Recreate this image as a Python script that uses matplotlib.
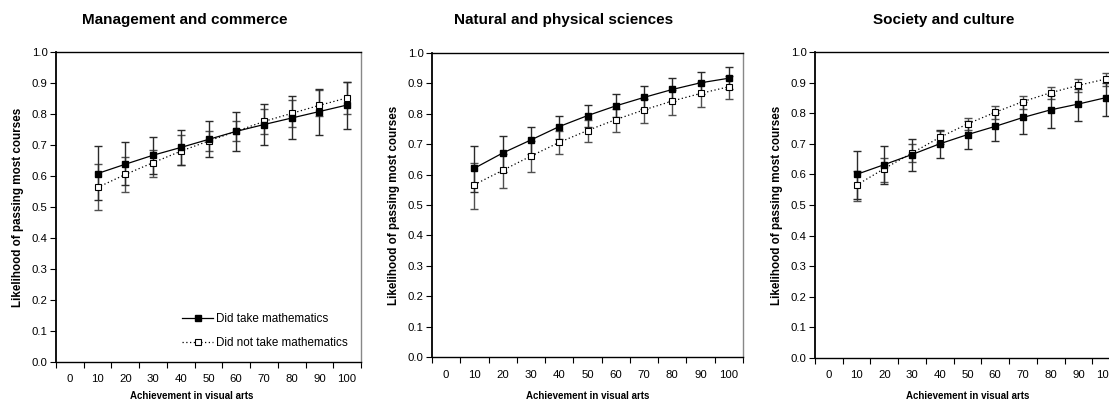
import matplotlib
matplotlib.use("Agg")
import matplotlib.pyplot as plt
import numpy as np

plt.rcParams['font.family'] = ['Liberation Sans', 'DejaVu Sans']

categories = ['0', '10', '20', '30', '40', '50', '60', '70', '80', '90', '100']
achievement = ['10', '20', '30', '40', '50', '60', '70', '80', '90', '100']

titles = ['Management and commerce', 'Natural and physical sciences', 'Society and culture']
series_labels = ['Did take mathematics', 'Did not take mathematics']

# Management and commerce
mc_took = [0.608, 0.638, 0.667, 0.692, 0.718, 0.744, 0.766, 0.787, 0.808, 0.829]
mc_took_lo = [0.522, 0.570, 0.605, 0.637, 0.660, 0.681, 0.700, 0.718, 0.733, 0.752]
mc_took_hi = [0.696, 0.710, 0.727, 0.748, 0.776, 0.805, 0.833, 0.858, 0.882, 0.902]
mc_not = [0.563, 0.605, 0.643, 0.680, 0.713, 0.744, 0.776, 0.802, 0.828, 0.852]
mc_not_lo = [0.490, 0.547, 0.598, 0.635, 0.680, 0.712, 0.736, 0.758, 0.794, 0.800]
mc_not_hi = [0.640, 0.660, 0.685, 0.733, 0.746, 0.778, 0.815, 0.846, 0.877, 0.902]

# Natural and physical sciences
nps_took = [0.621, 0.671, 0.714, 0.758, 0.794, 0.826, 0.854, 0.880, 0.902, 0.917]
nps_took_lo = [0.542, 0.610, 0.668, 0.718, 0.756, 0.790, 0.815, 0.842, 0.866, 0.880]
nps_took_hi = [0.694, 0.728, 0.758, 0.793, 0.830, 0.865, 0.893, 0.918, 0.939, 0.954]
nps_not = [0.567, 0.614, 0.661, 0.706, 0.745, 0.781, 0.813, 0.842, 0.867, 0.889]
nps_not_lo = [0.486, 0.555, 0.610, 0.668, 0.706, 0.741, 0.771, 0.796, 0.823, 0.850]
nps_not_hi = [0.637, 0.668, 0.712, 0.745, 0.780, 0.815, 0.850, 0.878, 0.905, 0.925]

# Society and culture
sc_took = [0.600, 0.632, 0.665, 0.700, 0.730, 0.757, 0.786, 0.811, 0.830, 0.851]
sc_took_lo = [0.520, 0.568, 0.611, 0.652, 0.683, 0.710, 0.732, 0.753, 0.773, 0.792]
sc_took_hi = [0.675, 0.694, 0.715, 0.744, 0.775, 0.800, 0.835, 0.860, 0.880, 0.900]
sc_not = [0.565, 0.619, 0.670, 0.721, 0.765, 0.803, 0.838, 0.867, 0.891, 0.912]
sc_not_lo = [0.512, 0.575, 0.640, 0.700, 0.745, 0.782, 0.815, 0.846, 0.870, 0.890]
sc_not_hi = [0.610, 0.652, 0.698, 0.742, 0.784, 0.824, 0.856, 0.886, 0.911, 0.933]

panels = [
    (mc_took, mc_took_lo, mc_took_hi, mc_not, mc_not_lo, mc_not_hi),
    (nps_took, nps_took_lo, nps_took_hi, nps_not, nps_not_lo, nps_not_hi),
    (sc_took, sc_took_lo, sc_took_hi, sc_not, sc_not_lo, sc_not_hi),
]

W, H = 1109, 401
fig = plt.figure(figsize=(W / 100, H / 100), dpi=100)

# axes boxes in pixels: left, right, top, bottom
boxes = [(56, 361, 52, 362), (432, 743, 53, 357), (815, 1120, 52, 358)]
xlabel_shift = [-17, 0, 0]

for i, (box, data) in enumerate(zip(boxes, panels)):
    l, r, t, b = box
    ax = fig.add_axes([l / W, 1 - b / H, (r - l) / W, (b - t) / H])
    took, took_lo, took_hi, notk, not_lo, not_hi = [np.array(d) for d in data]
    xpos = np.array([categories.index(a) for a in achievement])

    ax.errorbar(xpos, notk, yerr=[notk - not_lo, not_hi - notk], fmt='none',
                ecolor='#505050', elinewidth=1.0, capsize=3.2, capthick=1.0, zorder=2)
    ax.errorbar(xpos, took, yerr=[took - took_lo, took_hi - took], fmt='none',
                ecolor='#2a2a2a', elinewidth=1.0, capsize=3.2, capthick=1.0, zorder=2)
    h_not, = ax.plot(xpos, notk, linestyle=(0, (1, 2)), color='black', linewidth=0.9,
                     marker='s', markersize=4.2, markerfacecolor='white',
                     markeredgecolor='black', markeredgewidth=0.8, zorder=3,
                     label=series_labels[1])
    h_took, = ax.plot(xpos, took, linestyle='-', color='black', linewidth=0.9,
                      marker='s', markersize=4.4, markerfacecolor='black',
                      markeredgecolor='black', zorder=4, label=series_labels[0])

    ax.set_xlim(-0.5, len(categories) - 0.5)
    ax.set_ylim(0, 1.0)
    ax.set_yticks(np.arange(0, 1.01, 0.1))
    ax.set_yticklabels([f'{v:.1f}' for v in np.arange(0, 1.01, 0.1)])
    ax.set_xticks(np.arange(-0.5, len(categories), 1.0))
    ax.set_xticklabels([])
    ax.set_xticks(np.arange(len(categories)), minor=True)
    ax.set_xticklabels(categories, minor=True)
    ax.tick_params(axis='x', which='major', direction='out', length=4, width=0.8, color='black')
    ax.tick_params(axis='x', which='minor', length=0, pad=9, labelsize=8.2, labelcolor='black')
    ax.tick_params(axis='y', direction='out', length=4, width=0.8, labelsize=8.2, pad=2)

    for side in ['left', 'bottom', 'top']:
        ax.spines[side].set_color('black')
        ax.spines[side].set_linewidth(1.0)
    ax.spines['left'].set_linewidth(1.3)
    ax.spines['right'].set_color('#888888')
    ax.spines['right'].set_linewidth(1.0)

    width = r - l
    ax.set_ylabel('Likelihood of passing most courses', fontsize=8.4, fontweight='bold')
    ax.yaxis.set_label_coords(-32 / width, 0.5)
    ax.set_xlabel('Achievement in visual arts', fontsize=7.0, fontweight='bold')
    ax.xaxis.set_label_coords(0.5 + xlabel_shift[i] / width, -(396 - b) / (b - t))
    ax.xaxis.label.set_va('center')
    ax.text(0.5 - 24 / width, (b - 20) / (b - t), titles[i], transform=ax.transAxes,
            ha='center', va='center', fontsize=11, fontweight='bold')

    if i == 0:
        ax.legend(handles=[h_took, h_not], loc='lower right',
                  bbox_to_anchor=(1.0 - 6 / width, 0.018),
                  frameon=False, fontsize=8.4, handlelength=2.6, handletextpad=0.3,
                  labelspacing=1.1, borderaxespad=0.2)

fig.savefig('out.png', dpi=100)
